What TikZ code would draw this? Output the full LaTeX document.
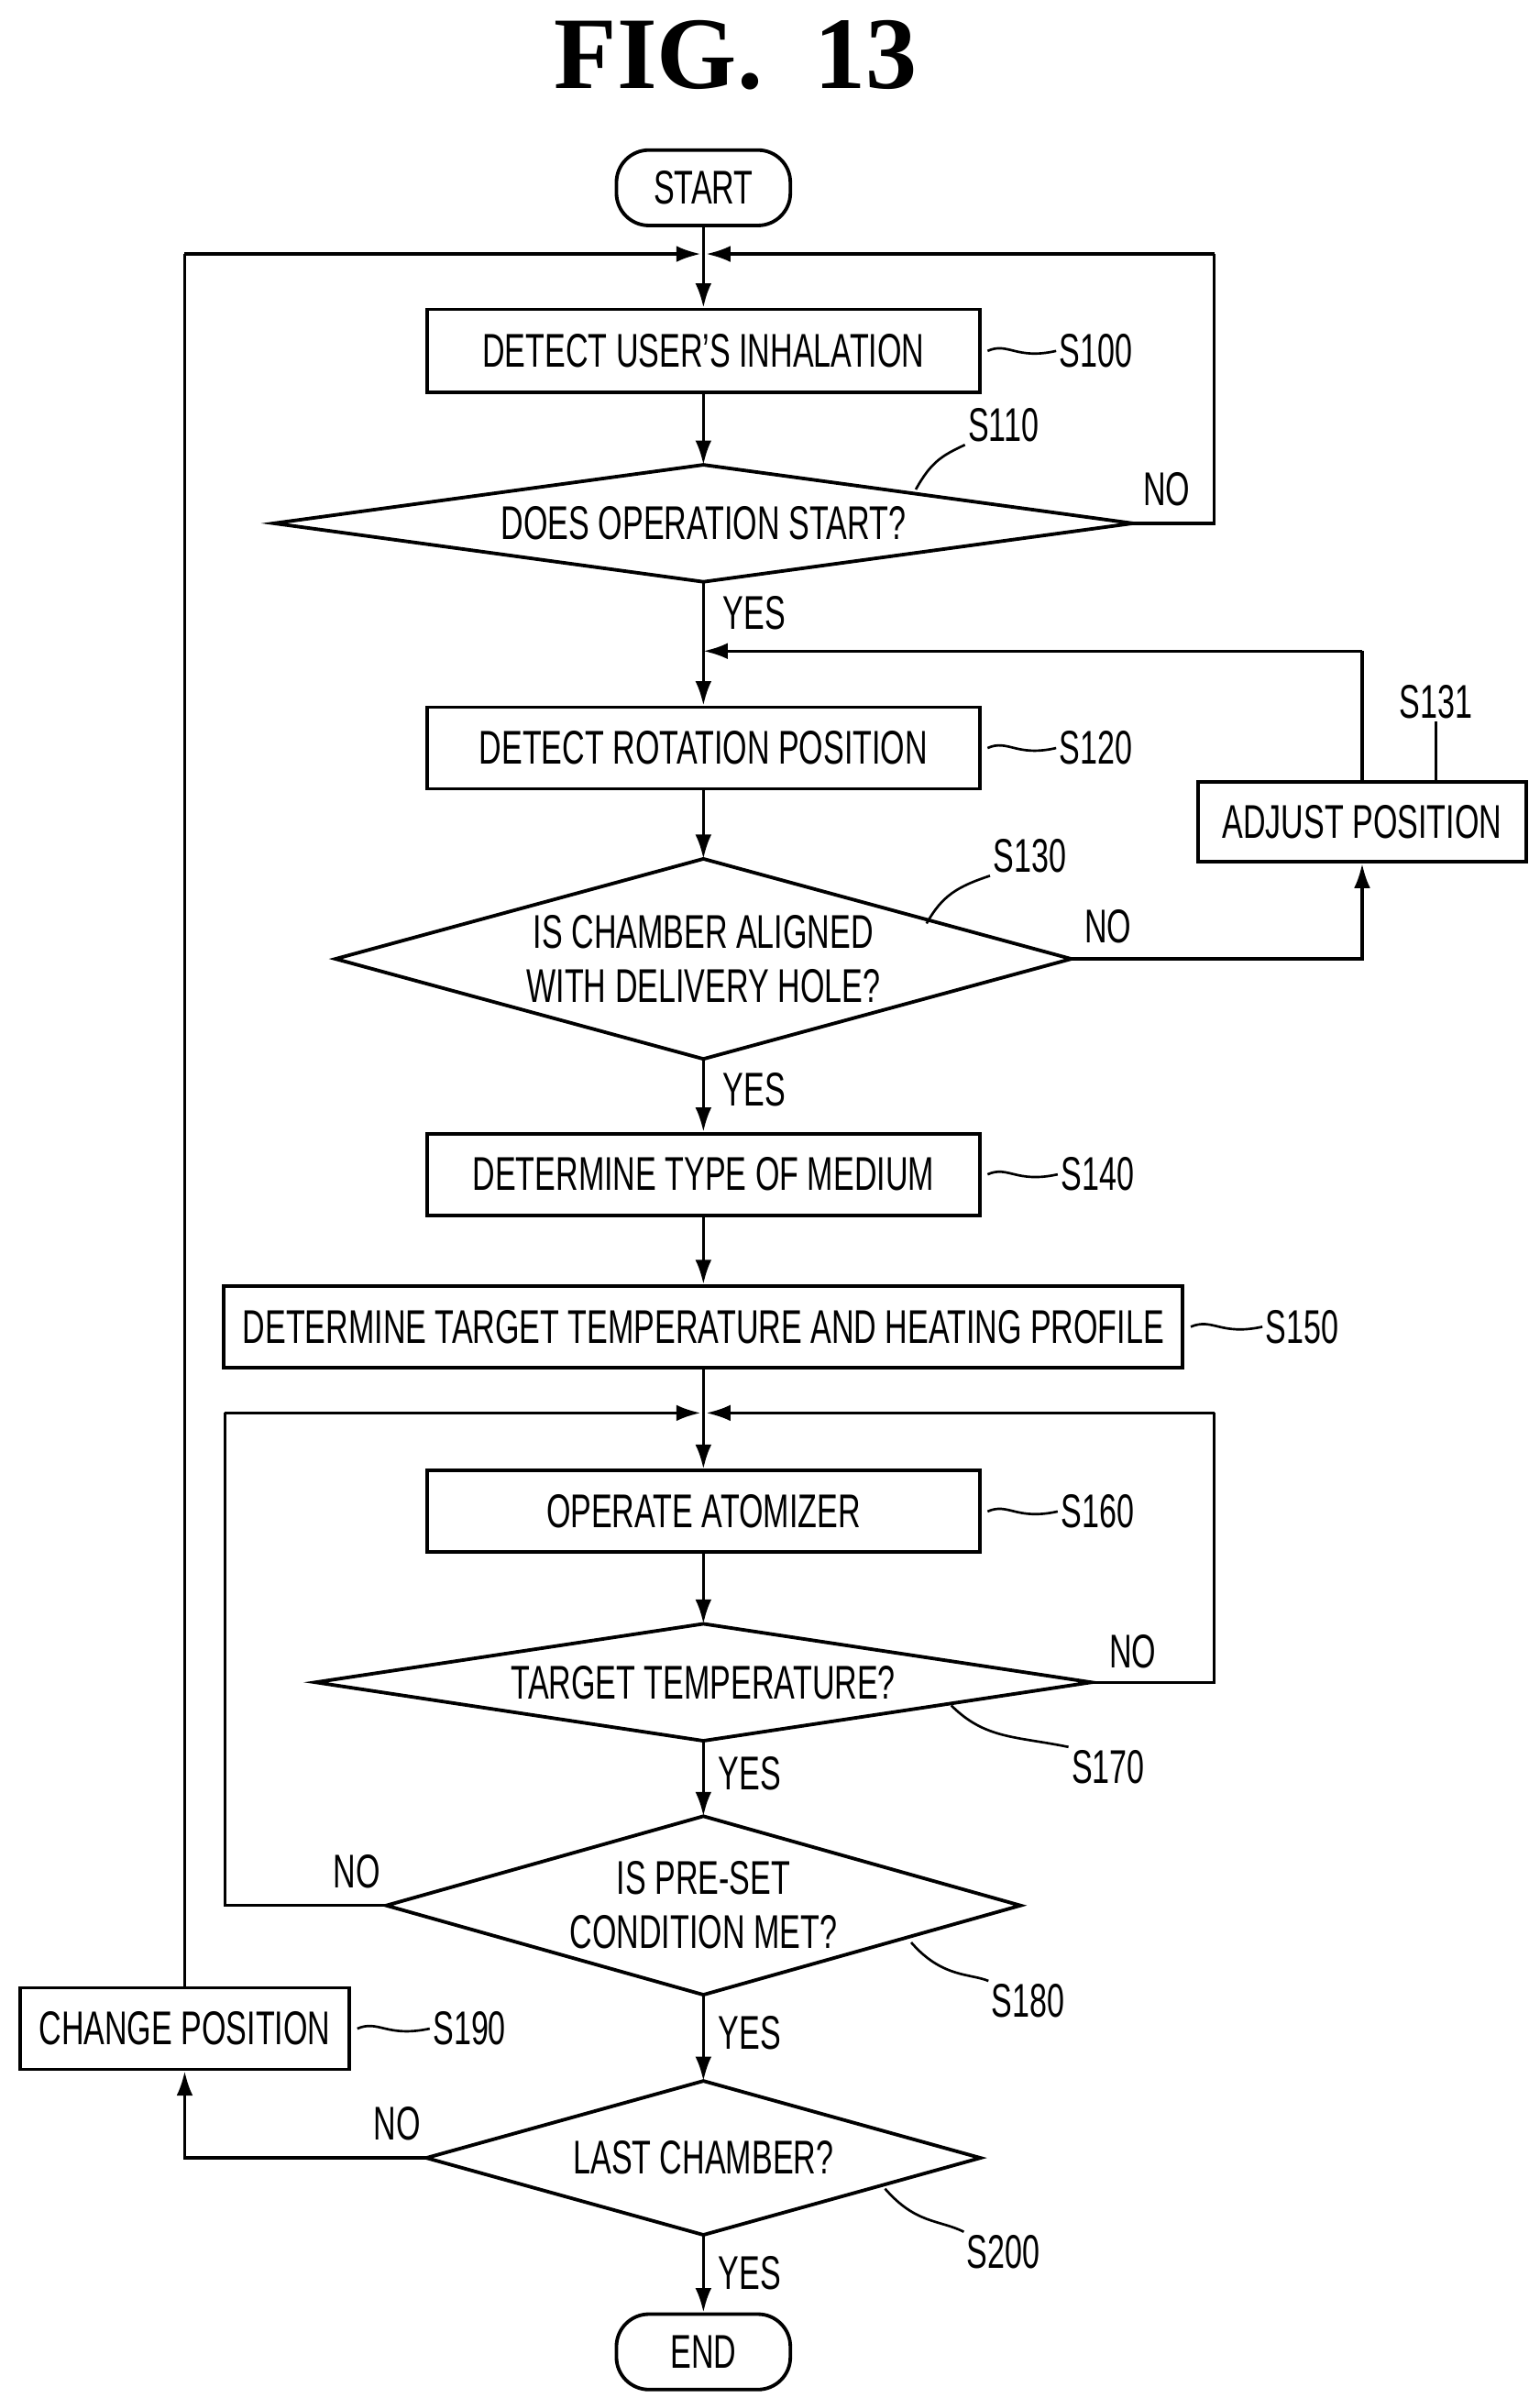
\documentclass[tikz,border=0pt]{standalone}
\usepackage{fontspec}
\setmainfont{Liberation Sans}[FakeStretch=0.66]
\newfontfamily\titlefont{Liberation Serif}
\usetikzlibrary{arrows.meta}
\tikzset{
  box/.style={draw, line width=1.3pt, inner sep=0pt, font=\fontsize{17.5}{20}\selectfont},
  term/.style={box, rounded corners=12pt},
  lbl/.style={font=\fontsize{17.5}{20}\selectfont, inner sep=1pt},
  flow/.style={line width=1.1pt, -{Latex[length=9pt,width=6pt]}},
  line/.style={line width=1.1pt},
  tick/.style={line width=0.9pt}
}
% diamond: name, x, y, half width, half height, text
\newcommand{\decision}[6]{%
  \draw[line width=1.3pt] (#2-#4,#3) -- (#2,#3-#5) -- (#2+#4,#3) -- (#2,#3+#5) -- cycle;
  \node[lbl, align=center] (#1) at (#2,#3) {#6};
  \coordinate (#1-l) at (#2-#4,#3);
  \coordinate (#1-r) at (#2+#4,#3);
  \coordinate (#1-t) at (#2,#3-#5);
  \coordinate (#1-b) at (#2,#3+#5);
}
\begin{document}
\begin{tikzpicture}[x=0.02cm, y=-0.02cm]
  \useasboundingbox (0,0) rectangle (1000,1558);
  % title
  \node[font=\titlefont\bfseries\fontsize{38}{40}\selectfont] (title) at (478,36) {FIG.\ \ 13};
  % terminals and boxes
  \node[term, minimum width=113*0.02cm, minimum height=49*0.02cm] (start) at (457,122) {START};
  \node[box, minimum width=359*0.02cm, minimum height=54*0.02cm] (s100) at (457,228) {DETECT USER'S INHALATION};
  \decision{d110}{457}{340}{279}{38}{DOES OPERATION START?}
  \node[box, minimum width=359*0.02cm, minimum height=53*0.02cm] (s120) at (457,486) {DETECT ROTATION POSITION};
  \node[box, minimum width=213*0.02cm, minimum height=52*0.02cm] (s131) at (885,534) {ADJUST POSITION};
  \decision{d130}{457}{623}{239}{65}{IS CHAMBER ALIGNED\\WITH DELIVERY HOLE?}
  \node[box, minimum width=359*0.02cm, minimum height=53*0.02cm] (s140) at (457,763) {DETERMINE TYPE OF MEDIUM};
  \node[box, minimum width=623*0.02cm, minimum height=53*0.02cm] (s150) at (457,862) {DETERMINE TARGET TEMPERATURE AND HEATING PROFILE};
  \node[box, minimum width=359*0.02cm, minimum height=53*0.02cm] (s160) at (457,982) {OPERATE ATOMIZER};
  \decision{d170}{457}{1093}{252}{38}{TARGET TEMPERATURE?}
  \decision{d180}{457}{1238}{206}{58}{IS PRE-SET\\CONDITION MET?}
  \node[box, minimum width=214*0.02cm, minimum height=53*0.02cm] (s190) at (120,1318) {CHANGE POSITION};
  \decision{d200}{457}{1402}{180}{50}{LAST CHAMBER?}
  \node[term, minimum width=113*0.02cm, minimum height=49*0.02cm] (end) at (457,1528) {END};
  % junctions
  \coordinate (j1) at (457,165);
  \coordinate (j2) at (457,423);
  \coordinate (j3) at (457,918);
  % main flow
  \draw[flow] (start) -- (s100);
  \draw[flow] (s100) -- (d110-t);
  \draw[flow] (d110-b) -- (s120);
  \draw[flow] (s120) -- (d130-t);
  \draw[flow] (d130-b) -- (s140);
  \draw[flow] (s140) -- (s150);
  \draw[flow] (s150) -- (s160);
  \draw[flow] (s160) -- (d170-t);
  \draw[flow] (d170-b) -- (d180-t);
  \draw[flow] (d180-b) -- (d200-t);
  \draw[flow] (d200-b) -- (end);
  % loops
  \draw[line] (d110-r) -- (789,340) -- (789,165);
  \draw[flow] (789,165) -- ([xshift=1pt]j1);
  \draw[flow] (d130-r) -- (885,623) -- (s131.south);
  \draw[line] (s131.north) -- (885,423);
  \draw[flow] (885,423) -- (j2);
  \draw[line] (d170-r) -- (789,1093) -- (789,918);
  \draw[flow] (789,918) -- ([xshift=1pt]j3);
  \draw[line] (d180-l) -- (146,1238) -- (146,918);
  \draw[flow] (146,918) -- ([xshift=-1pt]j3);
  \draw[flow] (d200-l) -- (120,1402) -- (s190.south);
  \draw[line] (s190.north) -- (120,165);
  \draw[flow] (120,165) -- ([xshift=-1pt]j1);
  % yes / no
  \node[lbl] (n110) at (758,318) {NO};
  \node[lbl] (y110) at (490,398) {YES};
  \node[lbl] (n130) at (720,602) {NO};
  \node[lbl] (y130) at (490,708) {YES};
  \node[lbl] (n170) at (736,1073) {NO};
  \node[lbl] (y170) at (487,1152) {YES};
  \node[lbl] (n180) at (232,1216) {NO};
  \node[lbl] (y180) at (487,1321) {YES};
  \node[lbl] (n200) at (258,1380) {NO};
  \node[lbl] (y200) at (487,1477) {YES};
  % step labels
  \node[lbl] (l100) at (712,228) {S100};
  \node[lbl] (l110) at (652,276) {S110};
  \node[lbl] (l120) at (712,486) {S120};
  \node[lbl] (l130) at (669,556) {S130};
  \node[lbl] (l131) at (933,456) {S131};
  \node[lbl] (l140) at (713,763) {S140};
  \node[lbl] (l150) at (846,862) {S150};
  \node[lbl] (l160) at (713,982) {S160};
  \node[lbl] (l170) at (720,1148) {S170};
  \node[lbl] (l180) at (668,1300) {S180};
  \node[lbl] (l190) at (305,1318) {S190};
  \node[lbl] (l200) at (652,1463) {S200};
  % leader ticks
  \draw[tick] (s100.east) ++(4,0) .. controls (655,222) and (660,234) .. (l100.west);
  \draw[tick] (595,318) .. controls (605,300) and (612,296) .. (l110.south west);
  \draw[tick] (s120.east) ++(4,0) .. controls (655,480) and (660,492) .. (l120.west);
  \draw[tick] (602,600) .. controls (612,582) and (622,576) .. (l130.south west);
  \draw[tick] (s131.north) ++(48,0) -- (l131.south);
  \draw[tick] (s140.east) ++(4,0) .. controls (655,757) and (660,769) .. (l140.west);
  \draw[tick] (s150.east) ++(4,0) .. controls (788,856) and (793,868) .. (l150.west);
  \draw[tick] (s160.east) ++(4,0) .. controls (655,976) and (660,988) .. (l160.west);
  \draw[tick] (618,1108) .. controls (640,1130) and (660,1128) .. (l170.north west);
  \draw[tick] (592,1262) .. controls (612,1285) and (630,1282) .. (l180.north west);
  \draw[tick] (s190.east) ++(4,0) .. controls (246,1312) and (251,1324) .. (l190.west);
  \draw[tick] (575,1422) .. controls (595,1445) and (610,1442) .. (l200.north west);
\end{tikzpicture}
\end{document}
